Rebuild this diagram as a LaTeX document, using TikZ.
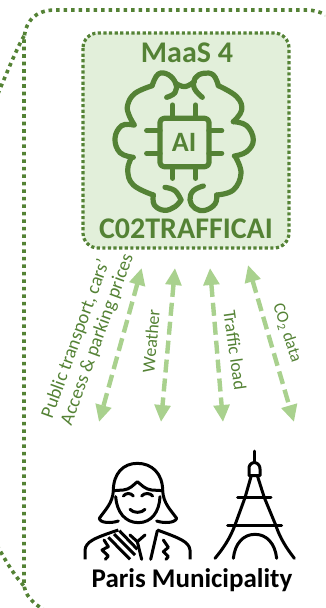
\documentclass[tikz,border=0pt]{standalone}
\usepackage{fontspec}
\setmainfont{Carlito}
\usetikzlibrary{arrows.meta}
\definecolor{dkgreen}{HTML}{548235}
\definecolor{ltgreen}{HTML}{A9D18E}
\definecolor{pale}{HTML}{E2EFDA}
\tikzset{
  frameline/.style={draw=dkgreen,line width=3.6pt,dash pattern=on 3.6pt off 3.9pt},
  boxline/.style={draw=dkgreen,fill=pale,line width=3.2pt,dash pattern=on 3.2pt off 2.4pt},
  icongreen/.style={draw=dkgreen,line width=5.2pt,line cap=round,line join=round},
  iconblack/.style={draw=black,line width=3pt,line cap=round,line join=round},
  flow/.style={draw=ltgreen,line width=4.4pt,dash pattern=on 13pt off 6pt,
    {Triangle[width=15.5pt,length=17pt,fill=ltgreen]}-{Triangle[width=15.5pt,length=17pt,fill=ltgreen]}},
  flowlabel/.style={text=dkgreen,font=\fontsize{18}{20.5}\selectfont,align=center,inner sep=0pt},
  titletext/.style={text=dkgreen,font=\bfseries\fontsize{30}{32}\selectfont,inner sep=0pt},
}
\begin{document}
\begin{tikzpicture}[x=1pt,y=-1pt]
\useasboundingbox (0,0) rectangle (325,608);
\begin{scope}
\clip (0,0) rectangle (325,608);
% outer frames
\draw[frameline] (335,20) .. controls (322,12) and (315,10) .. (305,10) -- (55,10)
  .. controls (35,10) and (24,22) .. (24,42) -- (24,583) .. controls (24,595) and (33,603) .. (44,610);
\draw[frameline] (24,36) .. controls (17,48) and (8,70) .. (-3,96);
\draw[frameline] (-3,545) .. controls (5,560) and (14,575) .. (24,586);
% inner box
\path[boxline,rounded corners=15pt] (83,33) rectangle (289,248);
\node[titletext] (maas) at (187,53) {MaaS 4};
\node[titletext] (traffic) at (186,229) {C02TRAFFICAI};
% brain icon
\begin{scope}[shift={(105,70)},scale=1/3]
\draw[icongreen] plot[smooth,tension=.7] coordinates {(185,82) (210,68) (212,40) (190,14) (160,12) (142,45)};
\draw[icongreen] plot[smooth,tension=.7] coordinates {(142,47) (90,70) (68,105) (72,135) (88,165)};
\draw[icongreen] plot[smooth,tension=.7] coordinates {(85,165) (50,167) (30,205) (45,248) (85,262)};
\draw[icongreen] plot[smooth,tension=.7] coordinates {(80,262) (68,300) (85,345) (145,375)};
\draw[icongreen] plot[smooth,tension=.7] coordinates {(145,375) (148,405) (178,421) (210,410) (228,390)};
\draw[icongreen] plot[smooth,tension=.7] coordinates {(180,352) (210,362) (228,390)};
\draw[icongreen] plot[smooth,tension=.7] coordinates {(295,348) (265,362) (255,390) (270,415) (300,421) (330,402) (335,375)};
\draw[icongreen] plot[smooth,tension=.7] coordinates {(335,375) (385,360) (408,310) (392,262)};
\draw[icongreen] plot[smooth,tension=.7] coordinates {(388,258) (425,245) (445,210) (425,167) (385,155)};
\draw[icongreen] plot[smooth,tension=.7] coordinates {(385,155) (410,120) (395,80) (340,47)};
\draw[icongreen] plot[smooth,tension=.7] coordinates {(340,47) (325,15) (295,10) (270,25) (268,55) (292,82)};
\draw[icongreen] plot[smooth,tension=.7] coordinates {(212,40) (240,50) (268,35)};
\draw[icongreen,rounded corners=4pt] (165,145) rectangle (312,290);
\foreach \px in {203,272} {
  \draw[icongreen] (\px,105) -- (\px,145);
  \draw[icongreen] (\px,290) -- (\px,325);
}
\foreach \py in {182,250} {
  \draw[icongreen] (125,\py) -- (165,\py);
  \draw[icongreen] (312,\py) -- (350,\py);
}
\node[text=dkgreen,font=\bfseries\fontsize{28}{30}\selectfont,inner sep=0pt] (ai) at (237,217) {AI};
\end{scope}
% arrows
\coordinate (a1t) at (141.7,268); \coordinate (a1b) at (99,422);
\coordinate (a2t) at (175,268);   \coordinate (a2b) at (161,422);
\coordinate (a3t) at (210,268);   \coordinate (a3b) at (223,422);
\coordinate (a4t) at (248,265);   \coordinate (a4b) at (294,422);
\draw[flow] (a1t) -- (a1b);
\draw[flow] (a2t) -- (a2b);
\draw[flow] (a3t) -- (a3b);
\draw[flow] (a4t) -- (a4b);
\node[flowlabel,rotate=70,align=left,font=\fontsize{19}{20.5}\selectfont] (l1) at (88,336) {Public transport, cars’\\Access \& parking prices};
\node[flowlabel,rotate=85] (l2) at (151,341) {Weather};
\node[flowlabel,rotate=-82] (l3) at (235,350) {Traffic load};
\node[flowlabel,rotate=-72,font=\fontsize{17}{20}\selectfont] (l4) at (287,333) {CO\textsubscript{2} data};
% person
\begin{scope}[shift={(80,460)},scale=1/3]
\draw[iconblack] (100,92) .. controls (100,40) and (130,10) .. (172,10) .. controls (215,10) and (248,40) .. (248,92);
\draw[iconblack] (100,92) -- (130,90) .. controls (150,88) and (160,75) .. (172,65) .. controls (185,75) and (195,88) .. (215,90) -- (248,92);
\draw[iconblack] (100,92) .. controls (98,130) and (75,150) .. (58,175) .. controls (60,190) and (95,190) .. (115,183);
\draw[iconblack] (248,92) .. controls (250,130) and (272,150) .. (290,175) .. controls (285,190) and (250,190) .. (230,183);
\draw[iconblack] (107,110) .. controls (110,155) and (135,188) .. (175,188) .. controls (215,188) and (238,155) .. (240,110);
\draw[iconblack] (130,108) .. controls (138,98) and (152,98) .. (160,108);
\draw[iconblack] (185,108) .. controls (193,98) and (210,98) .. (218,108);
\draw[iconblack] (150,148) .. controls (160,160) and (185,160) .. (195,148);
\draw[iconblack,line cap=butt] (15,298) -- (15,270) .. controls (18,245) and (40,235) .. (115,210);
\draw[iconblack,line cap=butt] (330,298) -- (330,270) .. controls (327,245) and (300,235) .. (232,210);
\draw[iconblack,line cap=butt] (85,232) -- (150,298);
\draw[iconblack,line cap=butt] (102,222) -- (165,285);
\draw[iconblack,line cap=butt] (118,212) -- (172,268);
\draw[iconblack] (72,240) -- (85,260) -- (66,270) -- (85,288) -- (76,298);
\draw[iconblack] (232,212) -- (212,298);
\draw[iconblack] (250,240) -- (265,262) -- (250,275) -- (265,290) -- (258,298);
\draw[iconblack] (150,225) -- (172,245) -- (195,225);
\draw[iconblack] (172,245) -- (185,298);
\end{scope}
% tower
\begin{scope}[shift={(205,445)},scale=1/3]
\draw[iconblack] (148,18) -- (148,52);
\draw[iconblack] (148,52) .. controls (135,55) and (132,62) .. (132,72) -- (132,92) -- (165,92) -- (165,72) .. controls (165,62) and (160,55) .. (148,52);
\draw[iconblack] (138,95) -- (120,158) -- (90,240) .. controls (75,280) and (55,310) .. (30,340);
\draw[iconblack] (158,95) -- (178,158) -- (212,240) .. controls (225,280) and (245,310) .. (268,340);
\draw[iconblack] (98,158) -- (198,158);
\draw[iconblack] (68,240) -- (230,240);
\draw[iconblack] (85,340) .. controls (90,295) and (115,268) .. (150,268) .. controls (185,268) and (210,295) .. (215,340);
\end{scope}
\node[text=black,font=\bfseries\fontsize{27}{29}\selectfont,inner sep=0pt] (paris) at (192,580) {Paris Municipality};
\end{scope}
\end{tikzpicture}
\end{document}
